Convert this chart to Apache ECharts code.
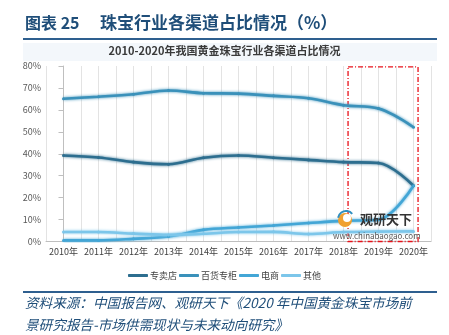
<!DOCTYPE html>
<html><head><meta charset="utf-8">
<script src="https://cdn.jsdelivr.net/npm/echarts@6/dist/echarts.min.js"></script>
<style>html,body{margin:0;padding:0;background:#fff}#c{width:449px;height:335px}</style>
</head><body><div id="c"></div>
<script>
const years = ['2010年','2011年','2012年','2013年','2014年','2015年','2016年','2017年','2018年','2019年','2020年'];
const seriesNames = ['专卖店','百货专柜','电商','其他'];
const zhuanmaidian = [39.2, 38.3, 36.2, 35.2, 38.2, 39.2, 38.2, 37.2, 36.2, 35.8, 25.4];
const baihuo = [65.1, 66.0, 67.1, 68.8, 67.6, 67.4, 66.4, 65.3, 62.1, 60.6, 52.1];
const dianshang = [0.5, 0.5, 1.2, 2.3, 5.3, 6.4, 7.3, 8.4, 9.4, 9.9, 25.4];
const qita = [4.3, 4.3, 3.6, 3.0, 3.5, 4.3, 4.4, 3.4, 4.3, 4.5, 4.6];
const yTicks = [0,10,20,30,40,50,60,70,80];
const colors = ['#2d6e8f','#3a91ba','#43a6d6','#7cc6ea'];
const highlightRange = [8.13, 10.13];

const chart = echarts.init(document.getElementById('c'));
const font = '"Noto Sans CJK SC","Noto Sans",sans-serif';
function mk(name, data, i){
  return {name, type:'line', data, smooth:0.35, symbol:'circle', symbolSize:3,
    lineStyle:{width:2.6,color:colors[i], shadowColor:colors[i], shadowBlur:3},
    itemStyle:{color:colors[i]}, z:3};
}
chart.setOption({
  animation:false,
  textStyle:{fontFamily:font},
  grid:{left:46,right:18,top:66,bottom:93.5},
  legend:{data:seriesNames, bottom:50, left:'center', icon:'roundRect', itemWidth:20, itemHeight:3, itemGap:2,
    textStyle:{fontSize:9,color:'#404040',fontFamily:font,padding:[0,0,0,-3]}},
  xAxis:[{type:'category', data:years, boundaryGap:true,
    axisLine:{lineStyle:{color:'#bfbfbf'}}, axisTick:{lineStyle:{color:'#bfbfbf'}},
    axisLabel:{fontSize:9,color:'#404040',margin:6,interval:0,fontFamily:font}, splitLine:{show:false}},
   {type:'value', min:-0.5, max:10.5, interval:0.5, show:true, position:'bottom',
    axisLine:{show:false}, axisTick:{show:false}, axisLabel:{show:false},
    splitLine:{show:true, lineStyle:{color:'#e3e3e3',width:1}}}],
  yAxis:{type:'value', min:yTicks[0], max:yTicks[yTicks.length-1], interval:10,
    axisLine:{show:true,lineStyle:{color:'#bfbfbf'}}, axisTick:{show:true,lineStyle:{color:'#bfbfbf'}},
    axisLabel:{fontSize:9,color:'#595959',formatter:'{value}%',margin:5,fontFamily:font}, splitLine:{show:false}},
  series:[mk(seriesNames[0],zhuanmaidian,0), mk(seriesNames[1],baihuo,1), mk(seriesNames[2],dianshang,2), mk(seriesNames[3],qita,3),
    {type:'line', xAxisIndex:1, data:[], clip:false, silent:true,
     markArea:{silent:true, itemStyle:{color:'rgba(0,0,0,0)', borderColor:'#e8121a', borderWidth:1.3, borderType:[5,2,1,2]},
       data:[[{xAxis:highlightRange[0], yAxis:79.6},{xAxis:highlightRange[1], yAxis:-1.2}]]}}],
  graphic:[
    {type:'text', left:25, top:15, style:{text:'图表 25', font:'bold 16px '+font, fill:'#1f4e79'}},
    {type:'text', left:100, top:14, style:{text:'珠宝行业各渠道占比情况（%）', font:'bold 17px '+font, fill:'#1f4e79'}},
    {type:'rect', shape:{x:23,y:38,width:414,height:2}, style:{fill:'#2e5f8f'}},
    {type:'rect', shape:{x:23,y:43,width:414,height:18}, style:{fill:'#f3f7fb'}, z:-1},
    {type:'text', left:'center', top:45, style:{text:'2010-2020年我国黄金珠宝行业各渠道占比情况', font:'bold 11px '+font, fill:'#3a3a3a'}},
    {type:'rect', shape:{x:23,y:291,width:414,height:2}, style:{fill:'#2e5f8f'}},
    {type:'text', left:25, top:296, style:{text:'资料来源：中国报告网、观研天下《2020 年中国黄金珠宝市场前', font:'italic 13.6px '+font, fill:'#1f4e79'}},
    {type:'text', left:25, top:318, style:{text:'景研究报告-市场供需现状与未来动向研究》', font:'italic 13.6px '+font, fill:'#1f4e79'}},
    {type:'circle', shape:{cx:345,cy:220,r:7}, style:{fill:'#f0a030'}, z:10},
    {type:'circle', shape:{cx:347,cy:218,r:4}, style:{fill:'#fff'}, z:11},
    {type:'arc', shape:{cx:346,cy:219,r:8,startAngle:3.3,endAngle:5.6}, style:{stroke:'#2f8fc0',lineWidth:2}, z:11},
    {type:'text', left:360, top:213, style:{text:'观研天下', font:'bold 13px '+font, fill:'#333'}, z:12},
    {type:'text', left:333, top:232, style:{text:'www.chinabaogao.com', font:'8px '+font, fill:'#555'}, z:12}
  ]
});
</script></body></html>
